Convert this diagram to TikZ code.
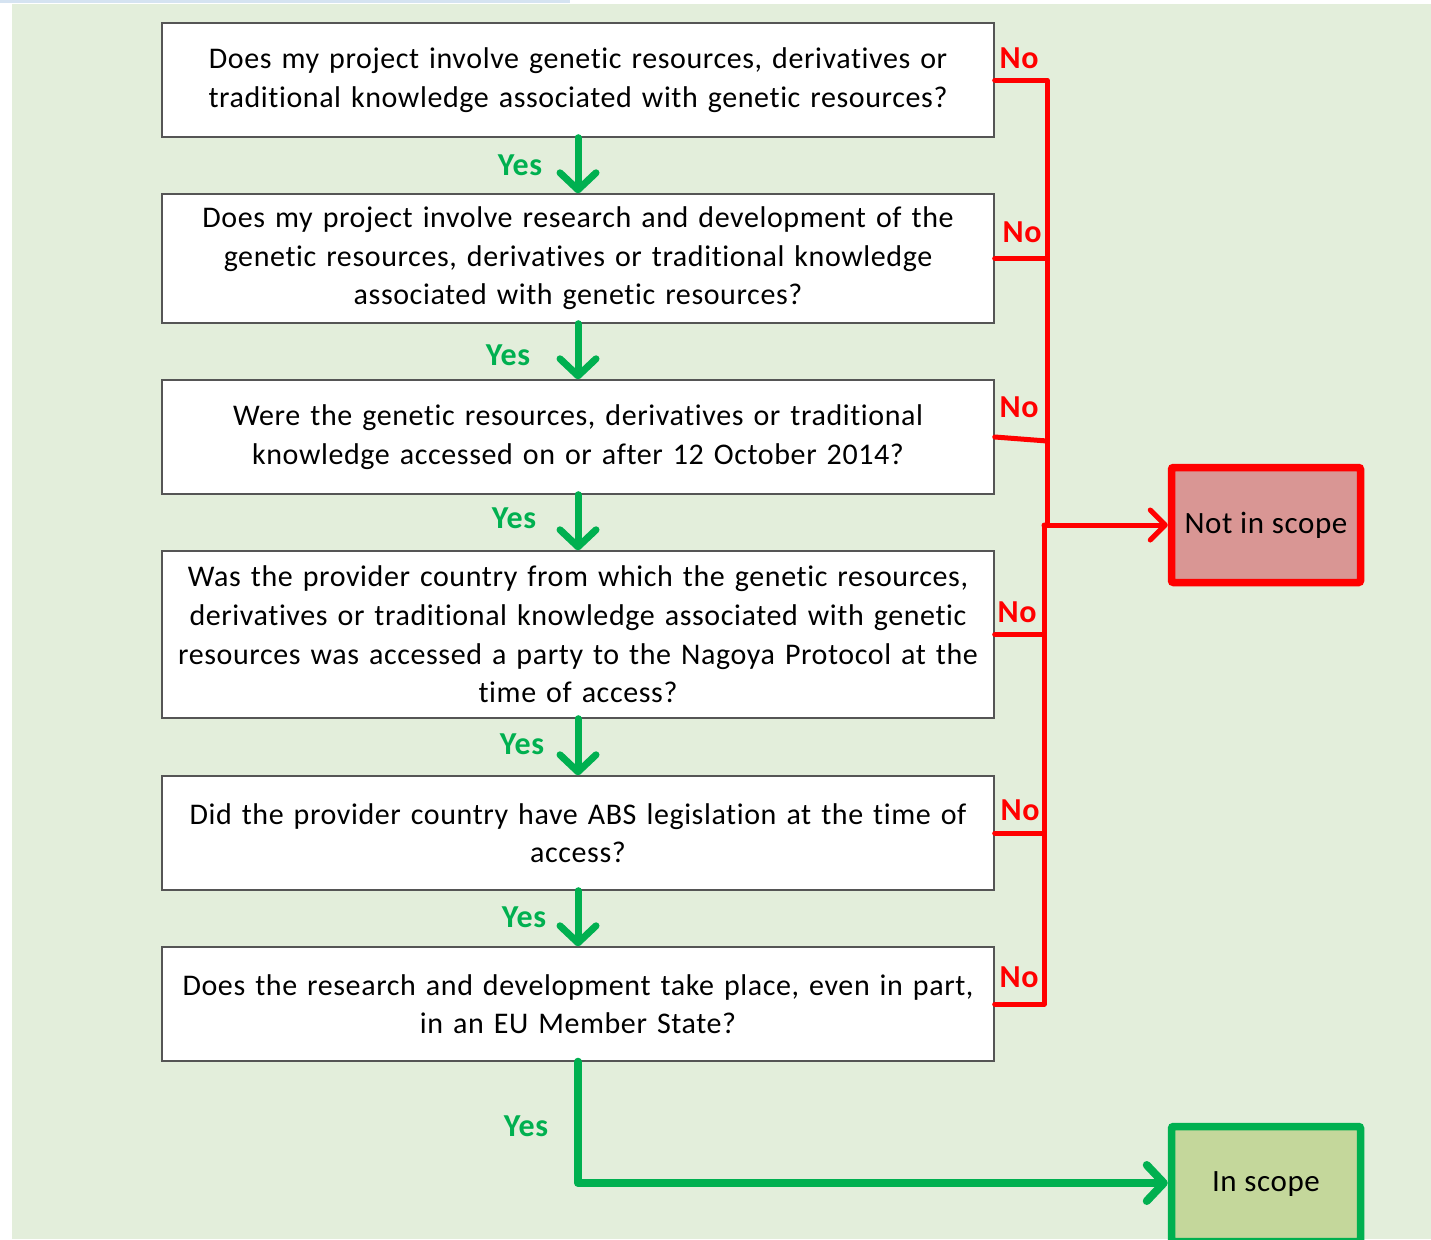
\documentclass[tikz,border=0pt]{standalone}
\usepackage{fontspec}
\setmainfont{Carlito}[LetterSpace=2.0, Ligatures={NoCommon}]
\usetikzlibrary{arrows.meta}
\definecolor{bggreen}{HTML}{E3EEDB}
\definecolor{yesgreen}{HTML}{00B050}
\definecolor{nored}{HTML}{FF0000}
\definecolor{nisfill}{HTML}{D99694}
\definecolor{insfill}{HTML}{C4D79B}
\definecolor{topstrip}{HTML}{D5E3F1}
\definecolor{boxline}{HTML}{555555}
\tikzset{
  question/.style={draw=boxline, line width=1.4pt, fill=white, minimum width=832pt,
    text width=826pt, align=center, inner sep=0pt,
    font=\fontsize{30}{38.6}\selectfont},
  yesarrow/.style={draw=yesgreen, line width=7pt, line cap=round,
    -{Straight Barb[length=17pt, width=36pt, line width=7pt, round]}},
  yeslabel/.style={text=yesgreen, font=\fontsize{32}{34}\selectfont\bfseries, inner sep=0pt},
  noline/.style={draw=nored, line width=5pt, line cap=round, line join=round},
  nolabel/.style={text=nored, font=\fontsize{32}{34}\selectfont\bfseries, inner sep=0pt},
  outcome/.style={minimum width=189pt, minimum height=115pt, line width=7.5pt,
    rounded corners=2pt, font=\fontsize{31}{34}\selectfont, inner sep=0pt},
}
\begin{document}
\begin{tikzpicture}[x=1pt, y=-1pt]
  \useasboundingbox (0,0) rectangle (1431,1239);
  \fill[white] (0,0) rectangle (1431,1239);
  \fill[topstrip] (0,0) rectangle (570,3);
  \fill[bggreen] (12,4) rectangle (1431,1239);

  % question boxes
  \node[question, minimum height=114pt] (q1) at (578,80)
    {Does my project involve genetic resources, derivatives or\\
     traditional knowledge associated with genetic resources?};
  \node[question, minimum height=129pt] (q2) at (578,258.5)
    {Does my project involve research and development of the\\
     genetic resources, derivatives or traditional knowledge\\
     associated with genetic resources?};
  \node[question, minimum height=114pt] (q3) at (578,437)
    {Were the genetic resources, derivatives or traditional\\
     knowledge accessed on or after 12 October 2014?};
  \node[question, minimum height=167pt] (q4) at (578,634.5)
    {Was the provider country from which the genetic resources,\\
     derivatives or traditional knowledge associated with genetic\\
     resources was accessed a party to the Nagoya Protocol at the\\
     time of access?};
  \node[question, minimum height=114pt] (q5) at (578,833)
    {Did the provider country have ABS legislation at the time of\\
     access?};
  \node[question, minimum height=114pt] (q6) at (578,1004)
    {Does the research and development take place, even in part,\\
     in an EU Member State?};

  % outcomes
  \node[outcome, draw=nored, fill=nisfill] (nis) at (1266,525) {Not in scope};
  \node[outcome, draw=yesgreen, fill=insfill] (ins) at (1266,1184) {In scope};

  % "Yes" path
  \draw[yesarrow] (q1) -- (q2);
  \draw[yesarrow] (q2) -- (q3);
  \draw[yesarrow] (q3) -- (q4);
  \draw[yesarrow] (q4) -- (q5);
  \draw[yesarrow] (q5) -- (q6);
  \coordinate (ycorner) at (578,1183);
  \draw[yesgreen, line width=8pt, line cap=round, line join=round,
    -{Straight Barb[length=17pt, width=36pt, line width=8pt, round]}]
    (q6.south) -- (ycorner) -- (ins.west |- ycorner);

  \node[yeslabel] (y1) at (520,165) {Yes};
  \node[yeslabel] (y2) at (508,355) {Yes};
  \node[yeslabel] (y3) at (514,518) {Yes};
  \node[yeslabel] (y4) at (522,744) {Yes};
  \node[yeslabel] (y5) at (524,917) {Yes};
  \node[yeslabel] (y6) at (526,1126) {Yes};

  % "No" path
  \coordinate (rtop) at (1047,80);
  \coordinate (rmid) at (1047,525);
  \coordinate (jn) at (1044,525);
  \coordinate (rbot) at (1044,1004);
  \draw[noline] (q1.east) -- (rtop) -- (rmid);
  \draw[noline] (q2.east) -- (1047,258.5);
  \draw[noline] (q3.east) -- (1047,441);
  \draw[noline] (q6.east) -- (rbot) -- (jn);
  \draw[noline] (q4.east) -- (1044,634.5);
  \draw[noline] (q5.east) -- (1044,833);
  \draw[noline, -{Straight Barb[length=15pt, width=30pt, line width=5pt, round]}]
    (jn) -- (nis.west);

  \node[nolabel] (n1) at (1019,58) {No};
  \node[nolabel] (n2) at (1022,232) {No};
  \node[nolabel] (n3) at (1019,407) {No};
  \node[nolabel] (n4) at (1017,612) {No};
  \node[nolabel] (n5) at (1020,810) {No};
  \node[nolabel] (n6) at (1019,977) {No};
\end{tikzpicture}
\end{document}
